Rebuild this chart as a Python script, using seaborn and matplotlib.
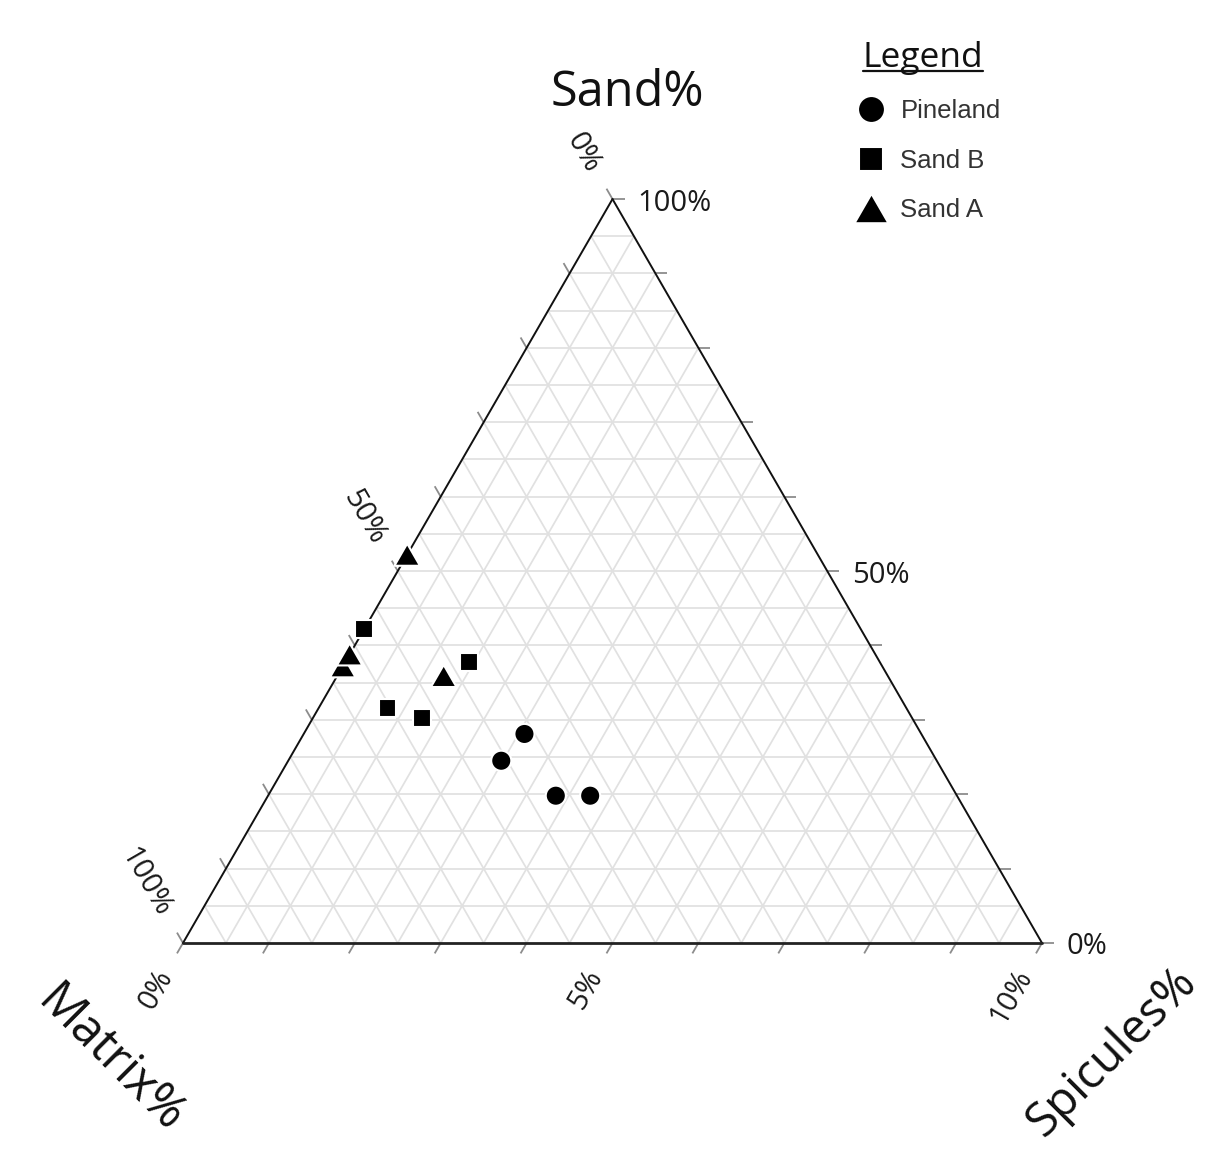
import numpy as np
import pandas as pd
import matplotlib
matplotlib.use("Agg")
import matplotlib.pyplot as plt
from matplotlib.lines import Line2D
from matplotlib.path import Path
import seaborn as sns

# ---- sample compositions (percent) ----
group_names = ["Pineland", "Sand B", "Sand A"]

pineland_sand = [28.1, 24.5, 19.8, 19.8]
pineland_spicules = [2.57, 2.48, 3.35, 3.75]

sandb_sand = [42.2, 37.8, 31.6, 30.2]
sandb_spicules = [0.0, 1.44, 0.80, 1.27]

sanda_sand = [52.2, 37.2, 38.8, 35.9]
sanda_spicules = [0.0, 0.0, 0.0, 1.24]

# ---- axis scales and tick labels ----
sand_max = 100.0       # Sand% axis full scale
spicules_max = 10.0    # Spicules% axis full scale
matrix_max = 100.0     # Matrix% axis full scale
sand_ticks = [0, 50, 100]
matrix_ticks = [0, 50, 100]
spicules_ticks = [0, 5, 10]

# ---- figure geometry (pixels) ----
W, H = 1210, 1164
unit = 859.0                 # pixels per triangle side
x0_px, y0_px = 183.0, 943.0  # pixel position of the bottom-left corner
px = 1.0 / unit
r3 = np.sqrt(3) / 2


def tern(sand, spic):
    """Sand / spicule fractions -> cartesian position inside the triangle."""
    sand = np.asarray(sand, dtype=float)
    spic = np.asarray(spic, dtype=float)
    return spic + sand / 2, sand * r3


def pix(xp, yp):
    """Figure pixel position -> data coordinates."""
    return (xp - x0_px) / unit, (y0_px - yp) / unit


sns.set_theme(style="white")
plt.rcParams["font.family"] = ["Open Sans", "DejaVu Sans"]

fig = plt.figure(figsize=(W / 100, H / 100), dpi=100)
ax = fig.add_axes([0, 0, 1, 1])

# ---- data table ----
df = pd.DataFrame({
    "Group": ["Pineland"] * len(pineland_sand)
    + ["Sand B"] * len(sandb_sand)
    + ["Sand A"] * len(sanda_sand),
    "Sand": pineland_sand + sandb_sand + sanda_sand,
    "Spicules": pineland_spicules + sandb_spicules + sanda_spicules,
})
df["x"], df["y"] = tern(df["Sand"] / sand_max, df["Spicules"] / spicules_max)

# ---- grid ----
n_div = 20
grid_kw = dict(color="#e1e1e1", lw=1.25, zorder=1, solid_capstyle="butt")
for i in range(1, n_div):
    f = i / n_div
    # constant sand
    xa, ya = tern([f, f], [0, 1 - f])
    ax.plot(xa, ya, **grid_kw)
    # constant spicules
    xa, ya = tern([0, 1 - f], [f, f])
    ax.plot(xa, ya, **grid_kw)
    # constant matrix
    xa, ya = tern([0, 1 - f], [1 - f, 0])
    ax.plot(xa, ya, **grid_kw)

# ---- triangle outline ----
xa, ya = tern([0, 1, 0], [0, 0, 1])
ax.plot([xa[0], xa[1]], [ya[0], ya[1]], color="#111111", lw=1.4, zorder=3)
ax.plot([xa[1], xa[2]], [ya[1], ya[2]], color="#111111", lw=1.4, zorder=3)
ax.plot([xa[0], xa[2]], [ya[0], ya[2]], color="#222222", lw=2.0, zorder=3)

# ---- ticks ----
tick_len = 12 * px
tick_kw = dict(color="#8c8c8c", lw=1.3, zorder=2, solid_capstyle="butt")
up_left = np.array([-0.5, r3])
down_left = np.array([-0.5, -r3])
for k in range(11):
    f = k / 10
    # Sand (right edge): horizontal, pointing right
    x, y = tern(f, 1 - f)
    ax.plot([x, x + tick_len], [y, y], **tick_kw)
    # Matrix (left edge): pointing up-left
    x, y = tern(1 - f, 0)
    ax.plot([x, x + up_left[0] * tick_len], [y, y + up_left[1] * tick_len], **tick_kw)
    # Spicules (bottom edge): pointing down-left
    x, y = tern(0, f)
    ax.plot([x, x + down_left[0] * tick_len], [y, y + down_left[1] * tick_len], **tick_kw)

# ---- tick labels ----
tick_fs = 21
lab_color = "#1a1a1a"
for v in sand_ticks:
    s = v / sand_max
    x, y = tern(s, 1 - s)
    ax.text(x + 25 * px, y - 4 * px, f"{v}%", ha="left", va="center",
            fontsize=tick_fs, color=lab_color)

gap = 33 * px
for v in matrix_ticks:
    m = v / matrix_max
    x, y = tern(1 - m, 0)
    ax.text(x + up_left[0] * gap - 3 * px, y + up_left[1] * gap, f"{v}%",
            ha="right", va="center", rotation=-60, rotation_mode="anchor",
            fontsize=tick_fs, color=lab_color)

for v in spicules_ticks:
    p = v / spicules_max
    x, y = tern(0, p)
    ax.text(x + down_left[0] * gap, y + down_left[1] * gap, f"{v}%",
            ha="right", va="center", rotation=60, rotation_mode="anchor",
            fontsize=tick_fs, color=lab_color)

# ---- axis titles ----
title_fs = 35
ax.text(*pix(627, 93), "Sand%", ha="center", va="center",
        fontsize=title_fs, color="#111111")
ax.text(*pix(110, 1060), "Matrix%", ha="center", va="center", rotation=-45,
        fontsize=title_fs, color="#111111")
ax.text(*pix(1112, 1052), "Spicules%", ha="center", va="center", rotation=45,
        fontsize=34, color="#111111")

# ---- samples ----
tri = Path([(0, 0.433), (-0.5, -0.433), (0.5, -0.433), (0, 0.433)],
           [Path.MOVETO, Path.LINETO, Path.LINETO, Path.CLOSEPOLY])
marker_map = {"Pineland": "o", "Sand B": "s", "Sand A": tri}
size_map = {"Pineland": 210, "Sand B": 165, "Sand A": 340}

sns.scatterplot(data=df, x="x", y="y", style="Group", size="Group",
                style_order=group_names, size_order=group_names,
                markers=marker_map, sizes=size_map, color="black",
                edgecolor="white", linewidth=1.5, legend=False,
                ax=ax, zorder=5)

# ---- legend ----
legend_ms = {"Pineland": 19.4, "Sand B": 17.0, "Sand A": 24.5}
handles = [Line2D([], [], marker=marker_map[g], linestyle="none",
                  markersize=legend_ms[g], markerfacecolor="black",
                  markeredgecolor="white", markeredgewidth=1.5)
           for g in group_names]
leg = ax.legend(handles, group_names, loc="upper left",
                bbox_to_anchor=(858 / W, 1 - 99 / H), frameon=False,
                prop={"family": "Liberation Sans", "size": 18.5},
                handlelength=1.0, handletextpad=0.65, labelspacing=1.0,
                borderpad=0, borderaxespad=0)
for t in leg.get_texts():
    t.set_color("#333333")

title = ax.text(*pix(923, 67), "Legend", ha="center", va="baseline",
                fontsize=25.5, color="#111111")

ax.set_xlim(-x0_px / unit, (W - x0_px) / unit)
ax.set_ylim(-(H - y0_px) / unit, y0_px / unit)
ax.axis("off")

# underline the legend heading
fig.canvas.draw()
bb = title.get_window_extent().transformed(ax.transData.inverted())
uy = pix(0, 71)[1]
ax.plot([bb.x0, bb.x1], [uy, uy], color="#111111", lw=1.6, zorder=3)

fig.savefig("out.png", dpi=100)
